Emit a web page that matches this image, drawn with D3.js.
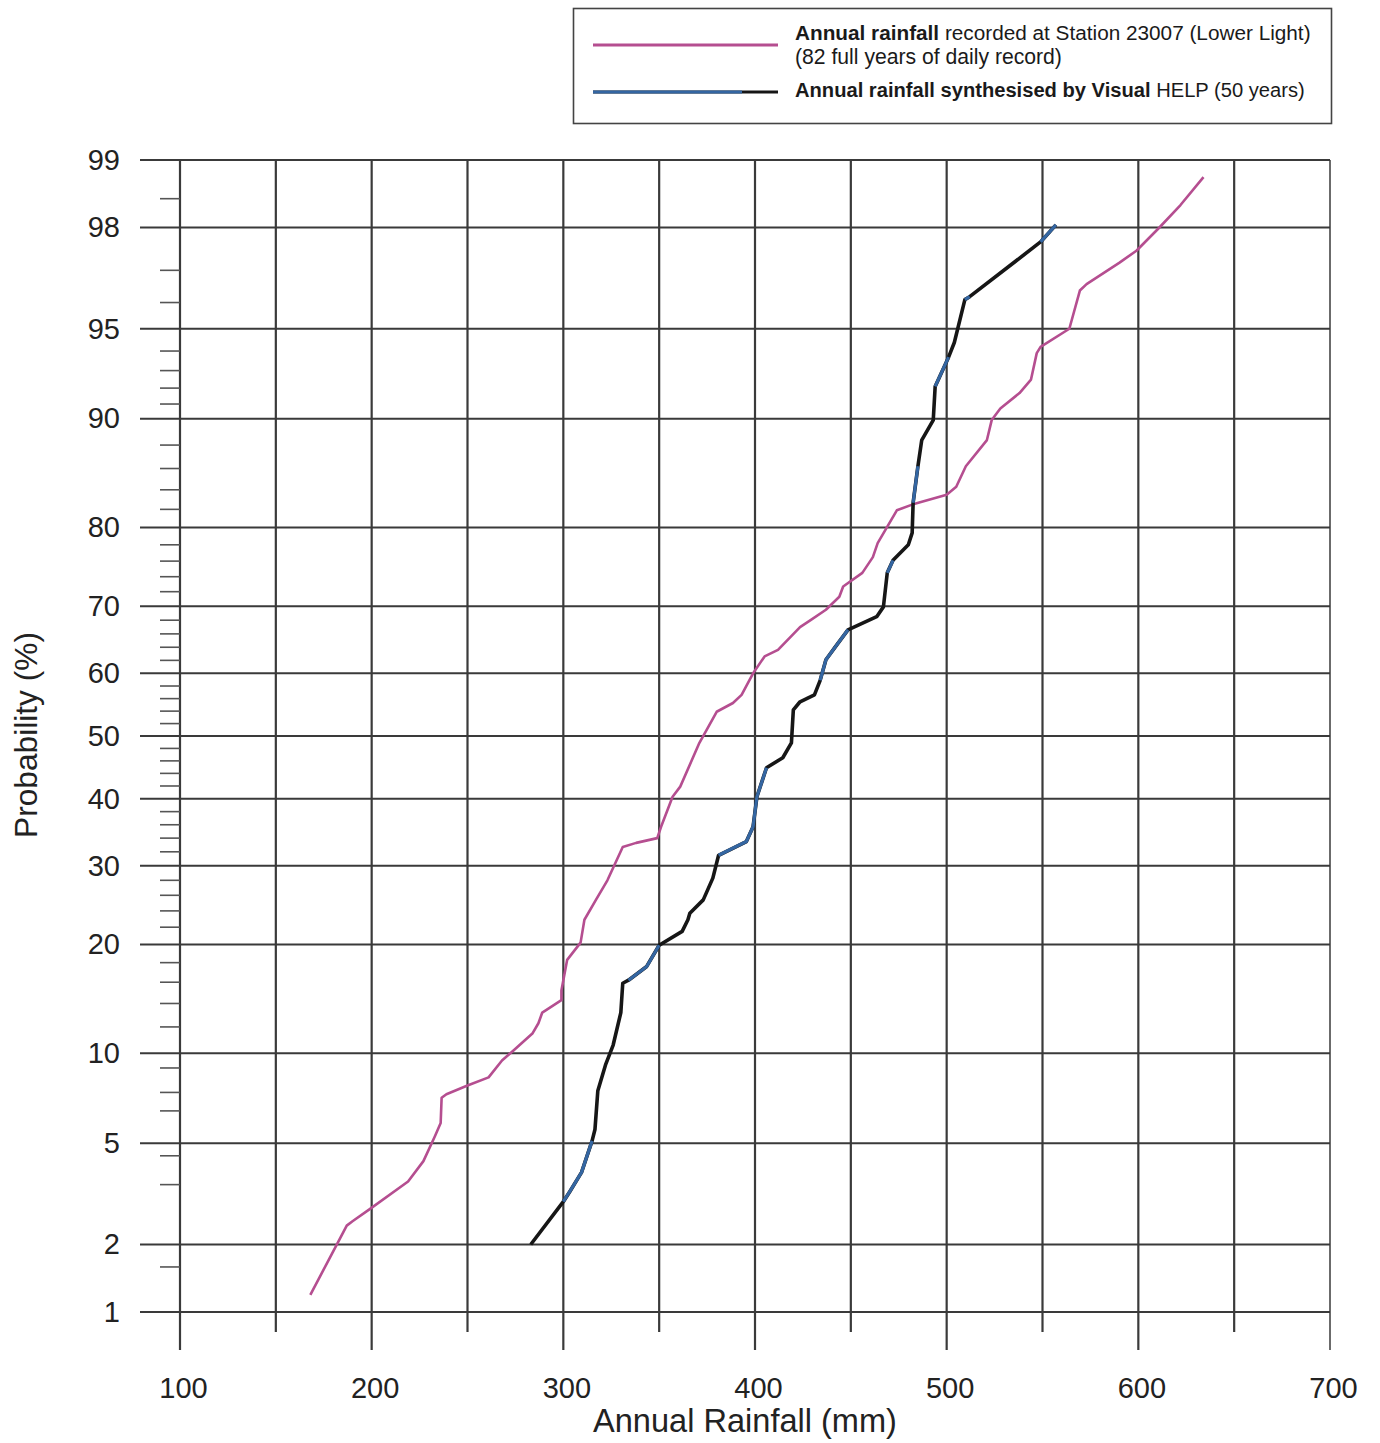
<!DOCTYPE html>
<html>
<head>
<meta charset="utf-8">
<script src="https://cdn.jsdelivr.net/npm/d3@7"></script>
<style>
  html, body { margin: 0; padding: 0; background: #fff; }
  svg { display: block; }
</style>
</head>
<body>
<svg id="chart" width="1380" height="1443"></svg>
<script>
// ---------------- DATA ----------------
// Annual rainfall (mm) vs. cumulative probability (%)
const recordedRain = [168, 187, 190, 199, 219, 227, 233, 236, 236.5, 239, 250, 261, 268, 274, 284, 287, 289, 299, 299, 302, 309, 311, 317, 323, 331, 338, 349, 351, 357, 361, 371, 380, 388.5, 393, 399, 405, 412, 423.5, 429, 437, 444, 446, 456, 461.5, 464, 474, 482, 500, 505, 510, 521, 523.5, 528, 538, 544, 547, 549, 564, 569.5, 573, 590, 599, 611, 622, 634];
const recordedProb = [1.2, 2.4, 2.5, 2.8, 3.6, 4.3, 5.3, 5.9, 7.2, 7.4, 7.9, 8.4, 9.5, 10.2, 11.5, 12.3, 13.2, 14.3, 15.2, 18.3, 20.2, 22.9, 25.4, 28, 32.7, 33.3, 34, 35.7, 40.3, 41.9, 48.9, 53.9, 55.3, 56.6, 60, 62.6, 63.6, 67, 68, 69.5, 71.3, 72.7, 74.5, 76.5, 78.2, 81.9, 82.5, 83.5, 84.3, 86.2, 88.4, 89.9, 90.7, 91.7, 92.5, 93.9, 94.2, 95, 96.4, 96.6, 97.2, 97.5, 98.0, 98.4, 98.8];

const synthRain = [283, 300, 303.5, 309.5, 315, 316.5, 318, 322, 326, 330, 331, 334, 343.5, 350, 362, 365, 366, 373, 378, 381, 395.5, 399, 401, 406, 414.5, 419, 420, 423.5, 431, 434, 437, 442, 448.5, 463.5, 467, 469, 472, 480, 482, 482.5, 485, 487, 493, 494, 501, 504, 509.5, 512, 549, 557];
const synthProb = [2.0, 3.0, 3.3, 3.9, 5.1, 5.6, 7.6, 9.2, 10.6, 13.2, 15.9, 16.2, 17.6, 19.9, 21.5, 22.9, 23.7, 25.4, 28.3, 31.5, 33.5, 35.7, 40.3, 44.9, 46.5, 48.9, 54.2, 55.5, 56.6, 58.9, 62.1, 64.1, 66.6, 68.5, 69.9, 74.5, 76.1, 78, 79.4, 82.7, 86.2, 88.4, 89.9, 92.1, 93.7, 94.4, 96.1, 96.2, 97.7, 98.05];

const xTickLabels = [100, 200, 300, 400, 500, 600, 700];
const xGridMajor = [100, 200, 300, 400, 500, 600, 700];
const xGridHalf = [150, 250, 350, 450, 550, 650];
const yTickLabels = [1, 2, 5, 10, 20, 30, 40, 50, 60, 70, 80, 90, 95, 98, 99];
const yMinorTicks = [1.6, 3.5, 4.5, 6.5, 7.5, 9, 12, 14, 16, 18, 22, 24, 26, 28, 32, 34, 36, 38, 42, 44, 46, 48, 52, 54, 56, 58, 62, 64, 66, 68, 72, 74, 76, 78, 82, 84, 86, 88, 91, 92, 93, 94, 96, 97, 98.5];

const legendLines = [
  [{t: "Annual rainfall", b: true}, {t: " recorded at Station 23007 (Lower Light)", b: false}],
  [{t: "(82 full years of daily record)", b: false}],
  [{t: "Annual rainfall synthesised by Visual", b: true}, {t: " HELP (50 years)", b: false}]
];
const xTitle = "Annual Rainfall (mm)";
const yTitle = "Probability (%)";

// ---------------- HELPERS ----------------
function qnorm(p) {
  const a=[-3.969683028665376e+01,2.209460984245205e+02,-2.759285104469687e+02,1.383577518672690e+02,-3.066479806614716e+01,2.506628277459239e+00];
  const b=[-5.447609879822406e+01,1.615858368580409e+02,-1.556989798598866e+02,6.680131188771972e+01,-1.328068155288572e+01];
  const c=[-7.784894002430293e-03,-3.223964580411365e-01,-2.400758277161838e+00,-2.549732539343734e+00,4.374664141464968e+00,2.938163982698783e+00];
  const d=[7.784695709041462e-03,3.224671290700398e-01,2.445134137142996e+00,3.754408661907416e+00];
  const pl = 0.02425; let q, r;
  if (p < pl) { q = Math.sqrt(-2*Math.log(p)); return (((((c[0]*q+c[1])*q+c[2])*q+c[3])*q+c[4])*q+c[5])/((((d[0]*q+d[1])*q+d[2])*q+d[3])*q+1); }
  if (p <= 1-pl) { q = p-0.5; r = q*q; return (((((a[0]*r+a[1])*r+a[2])*r+a[3])*r+a[4])*r+a[5])*q/(((((b[0]*r+b[1])*r+b[2])*r+b[3])*r+b[4])*r+1); }
  q = Math.sqrt(-2*Math.log(1-p));
  return -(((((c[0]*q+c[1])*q+c[2])*q+c[3])*q+c[4])*q+c[5])/((((d[0]*q+d[1])*q+d[2])*q+d[3])*q+1);
}

// ---------------- SCALES ----------------
const svg = d3.select("#chart");
const FONT = "'Liberation Sans', Arial, Helvetica, sans-serif";
const x = d3.scaleLinear().domain([100, 700]).range([180, 1330]);
const zScale = d3.scaleLinear().domain([qnorm(0.01), qnorm(0.99)]).range([1312, 160]);
const y = p => zScale(qnorm(p / 100));

const GRID = "#3a3a3a";
const PINK = "#b54e90";
const BLUE = "#3466a2";
const BLACK = "#161616";

// ---------------- GRID ----------------
const grid = svg.append("g");
grid.selectAll("line.h").data(yTickLabels).join("line")
  .attr("x1", 140).attr("x2", x(700))
  .attr("y1", d => y(d)).attr("y2", d => y(d))
  .attr("stroke", GRID).attr("stroke-width", 2);
grid.selectAll("line.vm").data(xGridMajor).join("line")
  .attr("x1", d => x(d)).attr("x2", d => x(d))
  .attr("y1", y(99)).attr("y2", y(1) + 38)
  .attr("stroke", GRID).attr("stroke-width", d => d === 700 ? 1.5 : 2.2);
grid.selectAll("line.vh").data(xGridHalf).join("line")
  .attr("x1", d => x(d)).attr("x2", d => x(d))
  .attr("y1", y(99)).attr("y2", y(1) + 20)
  .attr("stroke", GRID).attr("stroke-width", 2.2);
// minor ticks on the probability axis
grid.selectAll("line.mt").data(yMinorTicks).join("line")
  .attr("x1", x(100) - 20).attr("x2", x(100))
  .attr("y1", d => y(d)).attr("y2", d => y(d))
  .attr("stroke", "#555").attr("stroke-width", 1.6);

// ---------------- AXES (labels) ----------------
const xAxis = d3.axisBottom(x).tickValues(xTickLabels).tickSize(0).tickPadding(0).tickFormat(d3.format("d"));
const gx = svg.append("g").attr("transform", `translate(0, ${1377})`).call(xAxis);
gx.select(".domain").remove();
gx.selectAll("text").attr("font-family", FONT).attr("font-size", 29).attr("fill", "#222").attr("dy", "0.71em").attr("dx", 3);

const yAxis = d3.axisLeft(zScale).tickValues(yTickLabels.map(p => qnorm(p / 100))).tickSize(0).tickPadding(0)
  .tickFormat((d, i) => yTickLabels[i]);
const gy = svg.append("g").attr("transform", `translate(${120}, 0)`).call(yAxis);
gy.select(".domain").remove();
gy.selectAll("text").attr("font-family", FONT).attr("font-size", 29).attr("fill", "#222");

// ---------------- SERIES ----------------
const recorded = recordedRain.map((r, i) => [r, recordedProb[i]]);
const synth = synthRain.map((r, i) => [r, synthProb[i]]);
const line = d3.line().x(d => x(d[0])).y(d => y(d[1]));

svg.append("path").datum(recorded).attr("d", line)
  .attr("fill", "none").attr("stroke", PINK).attr("stroke-width", 2.6).attr("stroke-linejoin", "round");

svg.append("path").datum(synth).attr("d", line)
  .attr("fill", "none").attr("stroke", BLACK).attr("stroke-width", 3.6).attr("stroke-linejoin", "round");
// printed colour alternates along the synthesised curve: index ranges drawn in blue
const blueRuns = [[1, 4], [11, 13], [19, 23], [29, 32], [35, 36], [39, 40], [43, 44], [46, 47], [48, 49]];
blueRuns.forEach(([s, e]) => {
  svg.append("path").datum(synth.slice(s, e + 1)).attr("d", line)
    .attr("fill", "none").attr("stroke", BLUE).attr("stroke-width", 3.2).attr("stroke-linejoin", "round");
});

// ---------------- LEGEND ----------------
const lg = svg.append("g");
lg.append("rect").attr("x", 573.5).attr("y", 8.5).attr("width", 758).attr("height", 115)
  .attr("fill", "#fff").attr("stroke", "#444").attr("stroke-width", 1.6);
lg.append("line").attr("x1", 593).attr("x2", 778).attr("y1", 45).attr("y2", 45)
  .attr("stroke", PINK).attr("stroke-width", 3);
lg.append("line").attr("x1", 593).attr("x2", 778).attr("y1", 92).attr("y2", 92)
  .attr("stroke", BLACK).attr("stroke-width", 3.2);
lg.append("line").attr("x1", 593).attr("x2", 742).attr("y1", 92).attr("y2", 92)
  .attr("stroke", BLUE).attr("stroke-width", 3.2);

const legendBase = [40, 64, 97];
const legendTarget = [516, 267, 510];
legendLines.forEach((parts, i) => {
  const t = lg.append("text").attr("x", 795).attr("y", legendBase[i])
    .attr("font-family", FONT).attr("font-size", 16).attr("fill", "#1a1a1a");
  parts.forEach(p => t.append("tspan").text(p.t).attr("font-weight", p.b ? "bold" : "normal"));
  const w = t.node().getComputedTextLength();
  t.attr("font-size", 16 * legendTarget[i] / w);
});

// ---------------- TITLES ----------------
const xt = svg.append("text").attr("x", 745).attr("y", 1432).attr("text-anchor", "middle")
  .attr("font-family", FONT).attr("font-size", 27).attr("fill", "#222").text(xTitle);
xt.attr("font-size", 27 * 304 / xt.node().getComputedTextLength());

const yt = svg.append("text").attr("transform", "translate(37, 735) rotate(-90)").attr("text-anchor", "middle")
  .attr("font-family", FONT).attr("font-size", 26).attr("fill", "#222").text(yTitle);
yt.attr("font-size", 26 * 206 / yt.node().getComputedTextLength());
</script>
</body>
</html>
